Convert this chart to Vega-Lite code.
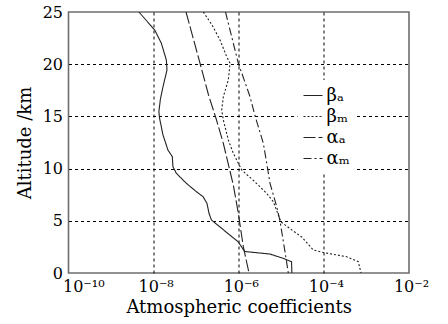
{
  "$schema": "https://vega.github.io/schema/vega-lite/v6.json",
  "width": 340.5,
  "height": 261,
  "autosize": {"type": "none"},
  "padding": {"left": 68.5, "top": 12, "right": 39.5, "bottom": 51},
  "background": "white",
  "config": {"view": {"stroke": "#6e6e6e", "strokeWidth": 1.6}, "font": "DejaVu Serif"},
  "data": {"values": [
    {"s": "βₐ", "v": 4.51e-9, "alt": 25},
    {"s": "βₐ", "v": 1.06e-8, "alt": 23.28},
    {"s": "βₐ", "v": 1.52e-8, "alt": 22.0},
    {"s": "βₐ", "v": 1.99e-8, "alt": 20.4},
    {"s": "βₐ", "v": 2.06e-8, "alt": 19.44},
    {"s": "βₐ", "v": 1.66e-8, "alt": 17.84},
    {"s": "βₐ", "v": 1.44e-8, "alt": 16.64},
    {"s": "βₐ", "v": 1.33e-8, "alt": 15.45},
    {"s": "βₐ", "v": 1.38e-8, "alt": 14.82},
    {"s": "βₐ", "v": 1.66e-8, "alt": 13.22},
    {"s": "βₐ", "v": 2.17e-8, "alt": 11.78},
    {"s": "βₐ", "v": 2.75e-8, "alt": 11.14},
    {"s": "βₐ", "v": 2.84e-8, "alt": 10.18},
    {"s": "βₐ", "v": 3.42e-8, "alt": 9.55},
    {"s": "βₐ", "v": 5.87e-8, "alt": 8.59},
    {"s": "βₐ", "v": 1.01e-7, "alt": 7.79},
    {"s": "βₐ", "v": 1.45e-7, "alt": 7.31},
    {"s": "βₐ", "v": 1.79e-7, "alt": 6.68},
    {"s": "βₐ", "v": 2.0e-7, "alt": 5.72},
    {"s": "βₐ", "v": 2.28e-7, "alt": 5.08},
    {"s": "βₐ", "v": 3.57e-7, "alt": 4.43},
    {"s": "βₐ", "v": 6.14e-7, "alt": 3.64},
    {"s": "βₐ", "v": 9.64e-7, "alt": 3.0},
    {"s": "βₐ", "v": 1.38e-6, "alt": 2.06},
    {"s": "βₐ", "v": 5.36e-6, "alt": 1.82},
    {"s": "βₐ", "v": 1.10e-5, "alt": 1.41},
    {"s": "βₐ", "v": 1.74e-5, "alt": 1.08},
    {"s": "βₐ", "v": 1.77e-5, "alt": 0},
    {"s": "βₘ", "v": 1.47e-7, "alt": 25},
    {"s": "βₘ", "v": 2.36e-7, "alt": 23.75},
    {"s": "βₘ", "v": 3.63e-7, "alt": 22.32},
    {"s": "βₘ", "v": 5.21e-7, "alt": 20.72},
    {"s": "βₘ", "v": 6.24e-7, "alt": 20.09},
    {"s": "βₘ", "v": 5.69e-7, "alt": 18.49},
    {"s": "βₘ", "v": 4.34e-7, "alt": 16.89},
    {"s": "βₘ", "v": 3.98e-7, "alt": 15.61},
    {"s": "βₘ", "v": 4.34e-7, "alt": 14.66},
    {"s": "βₘ", "v": 5.69e-7, "alt": 12.74},
    {"s": "βₘ", "v": 7.45e-7, "alt": 11.47},
    {"s": "βₘ", "v": 1.17e-6, "alt": 9.87},
    {"s": "βₘ", "v": 2.29e-6, "alt": 8.81},
    {"s": "βₘ", "v": 4.54e-6, "alt": 7.63},
    {"s": "βₘ", "v": 6.49e-6, "alt": 6.83},
    {"s": "βₘ", "v": 8.51e-6, "alt": 5.56},
    {"s": "βₘ", "v": 9.84e-6, "alt": 4.89},
    {"s": "βₘ", "v": 1.91e-5, "alt": 4.02},
    {"s": "βₘ", "v": 3.01e-5, "alt": 3.45},
    {"s": "βₘ", "v": 5.65e-5, "alt": 2.2},
    {"s": "βₘ", "v": 9.70e-5, "alt": 1.96},
    {"s": "βₘ", "v": 3.44e-4, "alt": 1.56},
    {"s": "βₘ", "v": 6.44e-4, "alt": 1.08},
    {"s": "βₘ", "v": 7.46e-4, "alt": 0},
    {"s": "αₐ", "v": 5.77e-8, "alt": 25},
    {"s": "αₐ", "v": 1.23e-7, "alt": 20.09},
    {"s": "αₐ", "v": 1.95e-7, "alt": 17.05},
    {"s": "αₐ", "v": 2.92e-7, "alt": 14.82},
    {"s": "αₐ", "v": 4.34e-7, "alt": 12.42},
    {"s": "αₐ", "v": 6.0e-7, "alt": 10.03},
    {"s": "αₐ", "v": 7.45e-7, "alt": 8.43},
    {"s": "αₐ", "v": 9.77e-7, "alt": 5.72},
    {"s": "αₐ", "v": 1.28e-6, "alt": 2.52},
    {"s": "αₐ", "v": 1.74e-6, "alt": 0},
    {"s": "αₘ", "v": 4.89e-7, "alt": 25},
    {"s": "αₘ", "v": 9.77e-7, "alt": 20.09},
    {"s": "αₘ", "v": 1.84e-6, "alt": 16.89},
    {"s": "αₘ", "v": 2.41e-6, "alt": 15.06},
    {"s": "αₘ", "v": 3.78e-6, "alt": 12.42},
    {"s": "αₘ", "v": 4.54e-6, "alt": 10.51},
    {"s": "αₘ", "v": 5.43e-6, "alt": 8.59},
    {"s": "αₘ", "v": 7.80e-6, "alt": 6.35},
    {"s": "αₘ", "v": 9.31e-6, "alt": 4.98},
    {"s": "αₘ", "v": 1.22e-5, "alt": 2.04},
    {"s": "αₘ", "v": 1.46e-5, "alt": 0}
  ]},
  "mark": {"type": "line", "strokeWidth": 1.1, "color": "#222", "clip": true},
  "encoding": {
    "x": {
      "field": "v", "type": "quantitative",
      "scale": {"type": "log", "domain": [1e-10, 1e-2]},
      "axis": {
        "title": "Atmospheric coefficients",
        "values": [1e-10, 1e-8, 1e-6, 1e-4, 1e-2],
        "labelExpr": "datum.value < 1e-9 ? '10⁻¹⁰' : datum.value < 1e-7 ? '10⁻⁸' : datum.value < 1e-5 ? '10⁻⁶' : datum.value < 1e-3 ? '10⁻⁴' : '10⁻²'",
        "ticks": false, "domain": false, "grid": true,
        "gridDash": [3, 3], "gridColor": "#000", "gridWidth": 1,
        "gridOpacity": {"condition": {"test": "datum.value < 1e-9 || datum.value > 1e-3", "value": 0}, "value": 1},
        "labelFontSize": 16, "labelColor": "#000", "labelPadding": 5, "labelOverlap": false, "labelFlush": false,
        "labelAlign": {"condition": {"test": "datum.value < 1e-9", "value": "left"}, "value": "center"},
        "labelOffset": {"condition": {"test": "datum.value < 1e-9", "value": -6}, "value": 2},
        "titleFontSize": 18, "titleFontWeight": "normal", "titleColor": "#000", "titlePadding": 4
      }
    },
    "y": {
      "field": "alt", "type": "quantitative",
      "scale": {"domain": [0, 25]},
      "axis": {
        "title": "Altitude /km",
        "values": [0, 5, 10, 15, 20, 25],
        "ticks": false, "domain": false, "grid": true,
        "gridDash": [3, 3], "gridColor": "#000", "gridWidth": 1,
        "gridOpacity": {"condition": {"test": "datum.value == 0 || datum.value == 25", "value": 0}, "value": 1},
        "labelFontSize": 16, "labelColor": "#000", "labelPadding": 6, "labelOverlap": false,
        "titleFontSize": 18, "titleFontWeight": "normal", "titleColor": "#000", "titlePadding": 8
      }
    },
    "strokeDash": {
      "field": "s", "type": "nominal",
      "scale": {"domain": ["βₐ", "βₘ", "αₐ", "αₘ"], "range": [[1, 0], [2, 2], [12, 3], [8, 3, 2, 3]]},
      "legend": {
        "orient": "none", "legendX": 229, "legendY": 68, "title": null,
        "symbolType": "stroke", "symbolSize": 360, "symbolStrokeWidth": 1.2, "symbolStrokeColor": "#222",
        "labelFontSize": 18, "labelColor": "#000", "labelFont": "DejaVu Serif",
        "fillColor": "white", "padding": 5, "rowPadding": 1, "labelOffset": 3
      }
    },
    "order": {"field": "alt", "sort": "descending"}
  }
}
